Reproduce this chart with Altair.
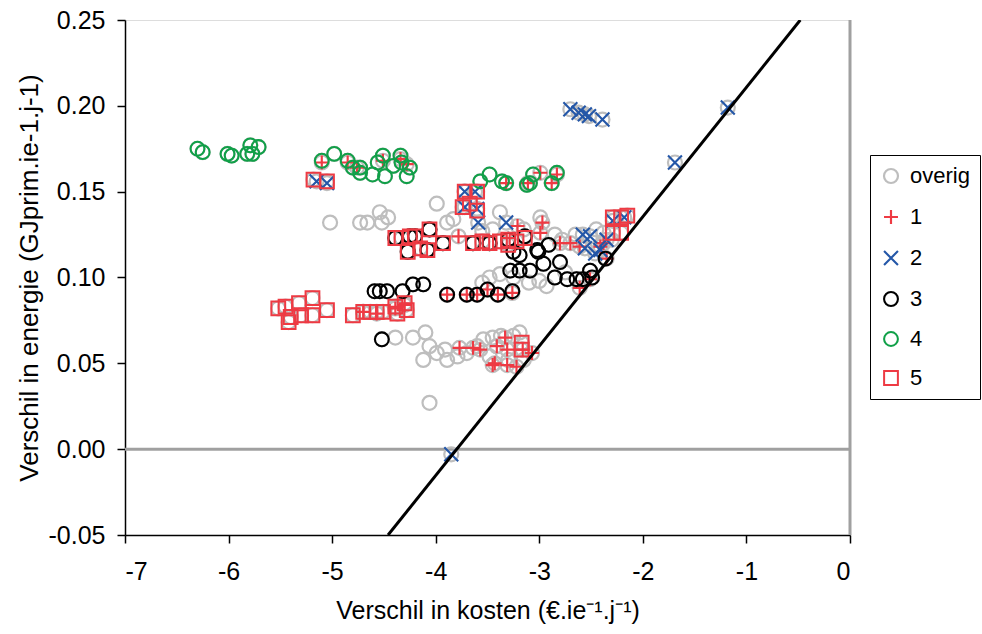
import altair as alt
import pandas as pd

# ---- data ----
# group 4 (green circles)
x4 = [-6.30, -6.25, -6.01, -5.97, -5.82, -5.79, -5.77, -5.71,
      -5.10, -4.98, -4.85, -4.80, -4.73, -4.73, -4.61, -4.56, -4.51, -4.49, -4.41, -4.34, -4.33, -4.28, -4.25,
      -3.57, -3.48, -3.36, -3.32, -3.12, -3.06, -3.09, -2.88, -2.83]
y4 = [0.175, 0.173, 0.172, 0.171, 0.172, 0.177, 0.172, 0.176,
      0.168, 0.172, 0.168, 0.164, 0.164, 0.161, 0.160, 0.167, 0.171, 0.159, 0.165, 0.171, 0.167, 0.159, 0.164,
      0.156, 0.160, 0.156, 0.155, 0.154, 0.160, 0.155, 0.155, 0.161]

# group 5 (red squares)
x5 = [-5.18, -5.05,
      -3.72, -3.60, -3.74, -3.60, -3.67,
      -2.29, -2.21, -2.15, -2.29, -2.21,
      -4.39, -4.33, -4.25, -4.20, -4.06, -3.93, -4.27, -4.15, -4.08,
      -3.64, -3.55, -3.48, -3.38, -3.30, -3.30, -3.22, -3.14,
      -5.52, -5.45, -5.40, -5.42, -5.32, -5.19, -5.19, -5.05, -5.30,
      -4.80, -4.70, -4.63, -4.57, -4.51, -4.39, -4.37, -4.30, -4.28,
      -3.17, -3.17]
y5 = [0.157, 0.156,
      0.150, 0.150, 0.141, 0.139, 0.143,
      0.135, 0.135, 0.136, 0.126, 0.126,
      0.123, 0.123, 0.124, 0.124, 0.128, 0.120, 0.115, 0.117, 0.116,
      0.120, 0.121, 0.120, 0.121, 0.122, 0.119, 0.121, 0.123,
      0.082, 0.083, 0.077, 0.074, 0.085, 0.088, 0.078, 0.081, 0.078,
      0.078, 0.080, 0.080, 0.080, 0.080, 0.083, 0.079, 0.085, 0.081,
      0.062, 0.058]

# group 2 (blue crosses)
x2 = [-5.15, -5.05,
      -3.72, -3.62, -3.72, -3.60,
      -3.59, -3.32,
      -2.70, -2.62, -2.56, -2.52, -2.39,
      -1.69, -1.18, -3.85,
      -2.29, -2.18,
      -2.58, -2.51, -2.56, -2.46, -2.41, -2.35]
y2 = [0.156, 0.155,
      0.150, 0.150, 0.141, 0.140,
      0.132, 0.132,
      0.198, 0.196, 0.195, 0.194, 0.192,
      0.167, 0.199, -0.003,
      0.133, 0.135,
      0.125, 0.124, 0.117, 0.114, 0.116, 0.122]

# group 3 (small black circles)
x3 = [-4.39, -4.25, -4.20, -4.06, -3.93, -4.27, -4.08,
      -3.64, -3.48, -3.30, -3.14,
      -3.01, -2.91, -2.96, -2.80, -3.28, -3.19, -3.09, -2.85, -2.73, -2.64, -2.51, -2.49, -2.36, -3.02, -2.58,
      -3.25, -3.19,
      -4.59, -4.54, -4.47, -4.32, -4.22, -4.12, -3.89, -3.70, -3.60, -3.50, -3.40, -3.26,
      -4.52]
y3 = [0.123, 0.124, 0.124, 0.128, 0.120, 0.115, 0.116,
      0.120, 0.120, 0.122, 0.124,
      0.115, 0.119, 0.108, 0.109, 0.104, 0.104, 0.104, 0.100, 0.099, 0.099, 0.104, 0.100, 0.111, 0.116, 0.099,
      0.115, 0.113,
      0.092, 0.092, 0.092, 0.092, 0.096, 0.096, 0.090, 0.090, 0.090, 0.093, 0.090, 0.092,
      0.064]

# group 1 (red plus signs)
x1 = [-5.10, -4.85, -4.76, -4.51, -4.34, -4.28,
      -3.32, -3.11, -2.99, -2.88, -2.83,
      -3.78, -3.21, -2.97, -2.99, -2.80, -2.70, -2.61, -2.41, -2.38, -2.35,
      -3.89, -3.70, -3.60, -3.50, -3.40, -3.26,
      -2.61, -2.51,
      -4.70, -4.57, -4.39, -4.30,
      -3.77, -3.64, -3.57, -3.41, -3.45, -3.33, -3.31, -3.16, -3.07, -3.43, -3.31, -3.22]
y1 = [0.167, 0.167, 0.164, 0.168, 0.169, 0.166,
      0.155, 0.155, 0.161, 0.155, 0.160,
      0.124, 0.130, 0.132, 0.126, 0.120, 0.120, 0.118, 0.118, 0.120, 0.111,
      0.090, 0.090, 0.090, 0.093, 0.090, 0.091,
      0.094, 0.099,
      0.080, 0.079, 0.082, 0.084,
      0.059, 0.059, 0.058, 0.060, 0.049, 0.065, 0.058, 0.058, 0.056, 0.050, 0.049, 0.048]

# remaining points ("overig" only)
x0 = [-5.02, -4.73, -4.66, -4.54, -4.46, -4.52, -3.99, -3.89, -3.83, -3.38, -2.99,
      -3.55, -3.45, -3.15, -2.85, -2.78, -2.65, -2.45, -2.38, -2.30,
      -3.48, -3.38, -2.93, -3.00, -3.55, -3.25, -3.10, -2.75,
      -4.39, -4.22, -4.10, -4.06, -4.12, -3.99, -3.91, -3.89, -3.79, -3.70, -3.60, -3.54,
      -3.48, -3.41, -3.37, -3.25, -3.19, -3.45, -3.30, -3.15, -4.06]
y0 = [0.132, 0.132, 0.132, 0.138, 0.135, 0.132, 0.143, 0.132, 0.134, 0.138, 0.135,
      0.127, 0.128, 0.128, 0.125, 0.122, 0.125, 0.128, 0.126, 0.122,
      0.100, 0.102, 0.095, 0.098, 0.097, 0.100, 0.097, 0.103,
      0.065, 0.065, 0.068, 0.060, 0.052, 0.056, 0.058, 0.052, 0.054, 0.056, 0.060, 0.064,
      0.054, 0.060, 0.066, 0.066, 0.068, 0.065, 0.052, 0.052, 0.027]

# break-even line end points
line_x = [-4.46, -0.48]
line_y = [-0.05, 0.25]

groups = ["overig", "1", "2", "3", "4", "5"]
colors = ["#BEBEBE", "#EE3A43", "#2457A8", "#000000", "#10A048", "#EE3A43"]
plus_path = "M-1,0L1,0M0,-1L0,1"
x_path = "M-1,-1L1,1M-1,1L1,-1"
shapes = ["circle", plus_path, x_path, "circle", "circle", "square"]
sizes = [196, 190, 150, 100, 210, 196]
widths = [2.2, 2.0, 2.2, 2.6, 2.6, 2.8]

series = {"1": (x1, y1), "2": (x2, y2), "3": (x3, y3), "4": (x4, y4), "5": (x5, y5)}
rows = []
all_x = x0 + x1 + x2 + x3 + x4 + x5
all_y = y0 + y1 + y2 + y3 + y4 + y5
for a, b in zip(all_x, all_y):
    rows.append({"kosten": a, "energie": b, "groep": "overig"})
for g in ["1", "2", "3", "4", "5"]:
    xs, ys = series[g]
    for a, b in zip(xs, ys):
        rows.append({"kosten": a, "energie": b, "groep": g})
df = pd.DataFrame(rows)
line_df = pd.DataFrame({"kosten": line_x, "energie": line_y})

FONT = "Liberation Sans"

xscale = alt.Scale(domain=[-7, 0], nice=False, zero=False)
yscale = alt.Scale(domain=[-0.05, 0.25], nice=False, zero=False)

xaxis = alt.Axis(
    values=[-7, -6, -5, -4, -3, -2, -1, 0],
    labelExpr="datum.value < 0 ? '-' + format(abs(datum.value), 'd') : '0'",
    title="Verschil in kosten (€.ie⁻¹.j⁻¹)",
    grid=False, tickSize=8, tickColor="#000000", tickWidth=1.5,
    domainColor="#000000", domainWidth=1.5,
    labelFont=FONT, labelFontSize=25, labelColor="#000000", labelPadding=16,
    titleFont=FONT, titleFontSize=25, titleFontWeight="normal", titleColor="#000000",
    titlePadding=14,
)
yaxis = alt.Axis(
    values=[-0.05, 0, 0.05, 0.10, 0.15, 0.20, 0.25],
    labelExpr="datum.value < 0 ? '-' + format(abs(datum.value), '.2f') : format(datum.value, '.2f')",
    title="Verschil in energie (GJprim.ie-1.j-1)",
    grid=False, tickSize=8, tickColor="#000000", tickWidth=1.5,
    domainColor="#000000", domainWidth=1.5,
    labelFont=FONT, labelFontSize=25, labelColor="#000000", labelPadding=12,
    titleFont=FONT, titleFontSize=26, titleFontWeight="normal", titleColor="#000000",
    titlePadding=6,
)

legend = alt.Legend(
    title=None, orient="none", legendX=745, legendY=135,
    strokeColor="#000000", fillColor="#FFFFFF", padding=10,
    rowPadding=17, labelFont=FONT, labelFontSize=22, labelColor="#000000",
    labelOffset=8, symbolStrokeWidth=2.2,
)

points = alt.Chart(df).mark_point(filled=False, opacity=1).encode(
    x=alt.X("kosten:Q", scale=xscale, axis=xaxis),
    y=alt.Y("energie:Q", scale=yscale, axis=yaxis),
    color=alt.Color("groep:N", scale=alt.Scale(domain=groups, range=colors), legend=legend),
    shape=alt.Shape("groep:N", scale=alt.Scale(domain=groups, range=shapes), legend=legend),
    size=alt.Size("groep:N", scale=alt.Scale(domain=groups, range=sizes), legend=legend),
    strokeWidth=alt.StrokeWidth("groep:N", scale=alt.Scale(domain=groups, range=widths), legend=None),
)

zero_h = alt.Chart(pd.DataFrame({"energie": [0.0]})).mark_rule(color="#A0A0A0", strokeWidth=3).encode(
    y=alt.Y("energie:Q", scale=yscale)
)
zero_v = alt.Chart(pd.DataFrame({"kosten": [0.0]})).mark_rule(color="#A0A0A0", strokeWidth=3).encode(
    x=alt.X("kosten:Q", scale=xscale)
)
diag = alt.Chart(line_df).mark_line(color="#000000", strokeWidth=3, clip=True).encode(
    x=alt.X("kosten:Q", scale=xscale),
    y=alt.Y("energie:Q", scale=yscale),
)

chart = alt.layer(zero_h, zero_v, points, diag).properties(
    width=725, height=515,
    autosize=alt.AutoSizeParams(type="none"),
    padding={"left": 125, "top": 20, "right": 132, "bottom": 99},
).configure_view(
    stroke="#000000", strokeWidth=1.5
).configure(background="#FFFFFF")

chart.save("out.html", embed_options={"renderer": "svg", "actions": False})
